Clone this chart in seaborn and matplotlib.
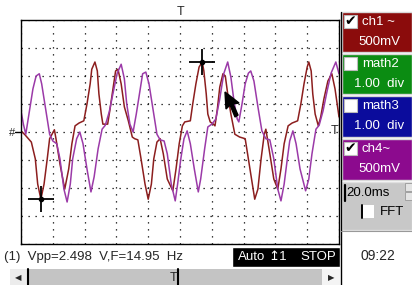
import pandas as pd
import seaborn as sns
import matplotlib.pyplot as plt
from matplotlib.patches import Rectangle, Polygon

# Voie 1 (ms, V)
ch1_t = [0, 2.5, 6.5, 9.0, 10.5, 12.5, 14.5, 16.5, 18.0, 21.0, 22.0, 24.5, 27.5, 30.0, 32.0, 34.0,
         36.5, 39.5, 41.5, 43.5, 44.5, 46.5, 48.0, 49.0, 50.5, 51.5, 53.5, 54.5, 56.0, 58.0, 59.5,
         61.0, 63.0, 65.0, 67.5, 70.0, 71.5, 73.5, 75.5, 78.0, 80.0, 82.0, 83.5, 85.5, 87.5, 89.5,
         92.0, 95.5, 97.5, 99.5, 101.5, 103.0, 106.5, 108.0, 110.0, 112.0, 114.0, 115.0, 116.5,
         117.5, 119.0, 121.0, 122.0, 123.5, 125.0, 127.0, 128.5, 130.0, 132.0, 134.5, 137.5, 141.0,
         143.0, 145.5, 147.0, 149.0, 151.0, 153.0, 154.0, 156.0, 159.0, 161.5, 163.5, 165.5, 168.0,
         170.5, 174.0, 176.0, 178.0, 180.0, 181.0, 182.5, 183.5, 185.0, 187.0, 188.5, 190.5, 193.0,
         195.5, 197.5, 200.0]
ch1_v = [0.02, -0.05, -0.18, -0.48, -0.93, -1.20, -0.93, -0.48, -0.12, 0.04, -0.12, -0.57, -1.02,
         -0.66, -0.21, 0.11, 0.16, 0.20, 0.50, 0.86, 1.12, 1.25, 1.09, 0.68, 0.32, 0.14, 0.14, 0.14,
         0.41, 0.80, 1.09, 1.12, 0.86, 0.45, 0.20, -0.09, -0.12, -0.14, -0.48, -0.93, -1.20, -0.93,
         -0.48, -0.18, -0.12, -0.39, -0.84, -1.05, -0.66, -0.21, 0.11, 0.18, 0.20, 0.50, 0.86, 1.16,
         1.25, 1.09, 0.68, 0.32, 0.18, 0.14, 0.11, 0.41, 0.80, 1.04, 1.00, 0.68, 0.32, -0.04, -0.09,
         -0.12, -0.48, -0.93, -1.20, -1.02, -0.48, -0.04, 0.05, -0.30, -0.84, -1.02, -0.66, -0.21,
         0.11, 0.16, 0.20, 0.50, 0.86, 1.16, 1.25, 1.09, 0.68, 0.32, 0.11, 0.27, 0.59, 0.91, 1.04,
         0.77, 0.27]

# Voie 4 (ms, V)
ch4_t = [0, 1.5, 3.0, 5.0, 7.5, 9.5, 11.5, 13.0, 15.5, 18.0, 20.0, 22.5, 24.5, 27.0, 29.0, 31.0,
         32.5, 35.0, 37.0, 39.0, 41.5, 44.0, 46.0, 48.5, 51.0, 53.0, 55.5, 58.0, 60.5, 63.0, 65.0,
         66.5, 68.5, 70.5, 72.5, 75.0, 76.5, 78.5, 80.5, 83.0, 85.5, 87.5, 90.0, 92.0, 94.5, 97.0,
         98.5, 100.5, 102.5, 104.5, 106.5, 109.0, 111.5, 113.0, 115.5, 117.5, 120.0, 122.5, 125.0,
         127.5, 130.0, 132.0, 134.0, 136.0, 137.0, 139.0, 141.0, 143.0, 144.5, 146.5, 149.0, 151.5,
         154.0, 156.5, 159.0, 161.5, 163.5, 165.5, 167.5, 169.0, 171.0, 173.0, 175.5, 179.0, 181.0,
         183.0, 185.5, 187.5, 190.0, 192.5, 195.0, 198.0, 200.0]
ch4_v = [0.38, 0.14, -0.04, 0.32, 0.77, 1.00, 1.04, 0.86, 0.41, -0.04, -0.16, -0.21, -0.48, -1.02,
         -1.25, -0.93, -0.48, -0.12, 0.0, -0.21, -0.66, -1.07, -0.80, -0.30, 0.05, 0.12, 0.36, 0.71,
         1.05, 1.21, 0.95, 0.50, 0.14, 0.0, 0.32, 0.77, 1.04, 1.07, 0.86, 0.41, -0.04, -0.14, -0.16,
         -0.39, -0.93, -1.23, -0.93, -0.48, -0.12, 0.02, -0.21, -0.66, -1.07, -0.84, -0.30, 0.09,
         0.14, 0.23, 0.59, 1.04, 1.25, 0.98, 0.54, 0.23, 0.18, 0.50, 0.86, 1.05, 1.09, 0.91, 0.45,
         0.02, -0.12, -0.14, -0.48, -1.02, -1.23, -0.93, -0.48, -0.16, 0.02, -0.21, -0.66, -1.05,
         -0.84, -0.39, 0.05, 0.12, 0.38, 0.73, 1.05, 1.25, 1.04]

# curseurs (max / min de la voie 1)
curseur_t = [114.0, 12.5]
curseur_v = [1.25, -1.20]

sns.set_style("white")
plt.rcParams["font.family"] = ["Liberation Sans", "DejaVu Sans"]

W, H = 412, 285
fig = plt.figure(figsize=(W / 100, H / 100), dpi=100)


def px(x, y):
    return x / W, 1 - y / H


ax = fig.add_axes([21 / W, 41 / H, 318 / W, 224 / H])

df = pd.concat([
    pd.DataFrame({"t": ch1_t, "v": ch1_v, "voie": "ch1"}),
    pd.DataFrame({"t": ch4_t, "v": ch4_v, "voie": "ch4"}),
])
sns.lineplot(data=df, x="t", y="v", hue="voie", hue_order=["ch1", "ch4"],
             palette={"ch1": "#8c1e1e", "ch4": "#9b3aa8"}, sort=False,
             estimator=None, linewidth=1.1, legend=False, ax=ax)

ax.plot(curseur_t, curseur_v, ls="none", marker="+", ms=19, mew=1.3, color="black", zorder=5)
ax.plot(curseur_t, curseur_v, ls="none", marker="o", ms=3, color="black", zorder=5)

ax.set_xlim(0, 200)
ax.set_ylim(-2, 2)
ax.set_xticks(range(0, 201, 20))
ax.set_yticks([i * 0.5 for i in range(-4, 5)])
ax.set_xticklabels([])
ax.set_yticklabels([])
ax.tick_params(length=0)
ax.set_xlabel("")
ax.set_ylabel("")
ax.grid(True, color="black", linestyle=(0, (1, 4.6)), linewidth=0.9)
for s in ax.spines.values():
    s.set_color("black")
    s.set_linewidth(1.0)

# repères T / #
fig.text(*px(181, 12), "T", ha="center", va="center", fontsize=9)
fig.text(*px(12, 133), "#", ha="center", va="center", fontsize=8)
ax.plot([-0.018, 0], [0.5, 0.5], transform=ax.transAxes, color="black", lw=1, clip_on=False)
fig.text(*px(335, 131), "T", ha="center", va="center", fontsize=9)

# pointeur souris
pointeur = [(225, 92), (226, 109), (230, 105), (235, 117), (238, 115), (233, 104), (239, 103)]
fig.patches.append(Polygon([px(x, y) for x, y in pointeur], closed=True, facecolor="black",
                           edgecolor="black", transform=fig.transFigure))

# ligne de mesure
fig.text(*px(4, 257), "(1)  Vpp=2.498  V,F=14.95  Hz", va="center", fontsize=9.5)
fig.patches.append(Rectangle(px(232, 267), 108 / W, 20 / H, facecolor="black",
                             transform=fig.transFigure))
fig.text(*px(238, 257), "Auto", va="center", color="white", fontsize=9.5)
fig.text(*px(268, 257), "\u21a51", va="center", color="white", fontsize=9.5)
fig.text(*px(300, 257), "STOP", va="center", color="white", fontsize=9.5)

# barre de défilement
fig.patches.append(Rectangle(px(10, 285), 330 / W, 16 / H, facecolor="#c4c4c4",
                             edgecolor="none", transform=fig.transFigure))
fig.patches.append(Rectangle(px(10, 285), 17 / W, 16 / H, facecolor="#ececec",
                             edgecolor="none", transform=fig.transFigure))
fig.patches.append(Rectangle(px(322, 285), 18 / W, 16 / H, facecolor="#f4f4f4",
                             edgecolor="none", transform=fig.transFigure))
fig.lines.append(plt.Line2D([28 / W, 28 / W], [0, 16 / H], color="black", lw=1.5,
                            transform=fig.transFigure))
fig.lines.append(plt.Line2D([178 / W, 178 / W], [0, 16 / H], color="black", lw=1.5,
                            transform=fig.transFigure))
fig.text(*px(18, 278), "\u25c0", ha="center", va="center", fontsize=6, family="DejaVu Sans")
fig.text(*px(331, 278), "\u25b6", ha="center", va="center", fontsize=6, family="DejaVu Sans")
fig.text(*px(174, 278), "T", ha="center", va="center", fontsize=9)

# panneau de droite
panneau = [
    (12, 52, "#8b0c0c", "ch1 ~", "500mV", True),
    (54, 94, "#0b8c12", "math2", "1.00  div", False),
    (96, 137, "#0b0c9c", "math3", "1.00  div", False),
    (139, 180, "#8c0a8e", "ch4~", "500mV", True),
]
for y0, y1, couleur, nom, echelle, coche in panneau:
    fig.patches.append(Rectangle(px(342, y1), 70 / W, (y1 - y0) / H, facecolor=couleur,
                                 edgecolor="#d8d8d8", lw=1, transform=fig.transFigure))
    fig.patches.append(Rectangle(px(344, y0 + 16), 13 / W, 13 / H, facecolor="white",
                                 edgecolor="#bbbbbb", lw=0.8, transform=fig.transFigure))
    if coche:
        fig.text(*px(350.5, y0 + 9.5), "\u2714", ha="center", va="center", fontsize=10,
                 family="DejaVu Sans", color="black")
    fig.text(*px(362, y0 + 10), nom, va="center", color="white", fontsize=9.5)
    fig.text(*px(379, y0 + 30), echelle, ha="center", va="center", color="white", fontsize=9.5)

fig.patches.append(Rectangle(px(342, 230), 70 / W, 48 / H, facecolor="#c8c8c8",
                             edgecolor="#e0e0e0", lw=1, transform=fig.transFigure))
fig.lines.append(plt.Line2D([345 / W, 345 / W], [1 - 201 / H, 1 - 185 / H], color="black", lw=1.6,
                            transform=fig.transFigure))
fig.text(*px(346, 193), "20.0ms", va="center", color="black", fontsize=9.5)
for yb in (183, 192):
    fig.patches.append(Rectangle(px(405, yb + 8), 7 / W, 8 / H, facecolor="#e4e4e4",
                                 edgecolor="#999999", lw=0.6, transform=fig.transFigure))
fig.patches.append(Rectangle(px(362, 218), 12 / W, 13 / H, facecolor="white",
                             edgecolor="none", transform=fig.transFigure))
fig.lines.append(plt.Line2D([362 / W, 362 / W], [1 - 218 / H, 1 - 205 / H], color="black", lw=1.4,
                            transform=fig.transFigure))
fig.text(*px(380, 212), "FFT", va="center", color="black", fontsize=9.5)

fig.lines.append(plt.Line2D([341 / W, 341 / W], [0, 1 - 12 / H], color="black", lw=1,
                            transform=fig.transFigure))
fig.lines.append(plt.Line2D([341 / W, 1], [1 - 231 / H, 1 - 231 / H], color="#999999", lw=0.8,
                            transform=fig.transFigure))
fig.text(*px(378, 256), "09:22", ha="center", va="center", fontsize=10)

fig.savefig("out.png", dpi=100)
